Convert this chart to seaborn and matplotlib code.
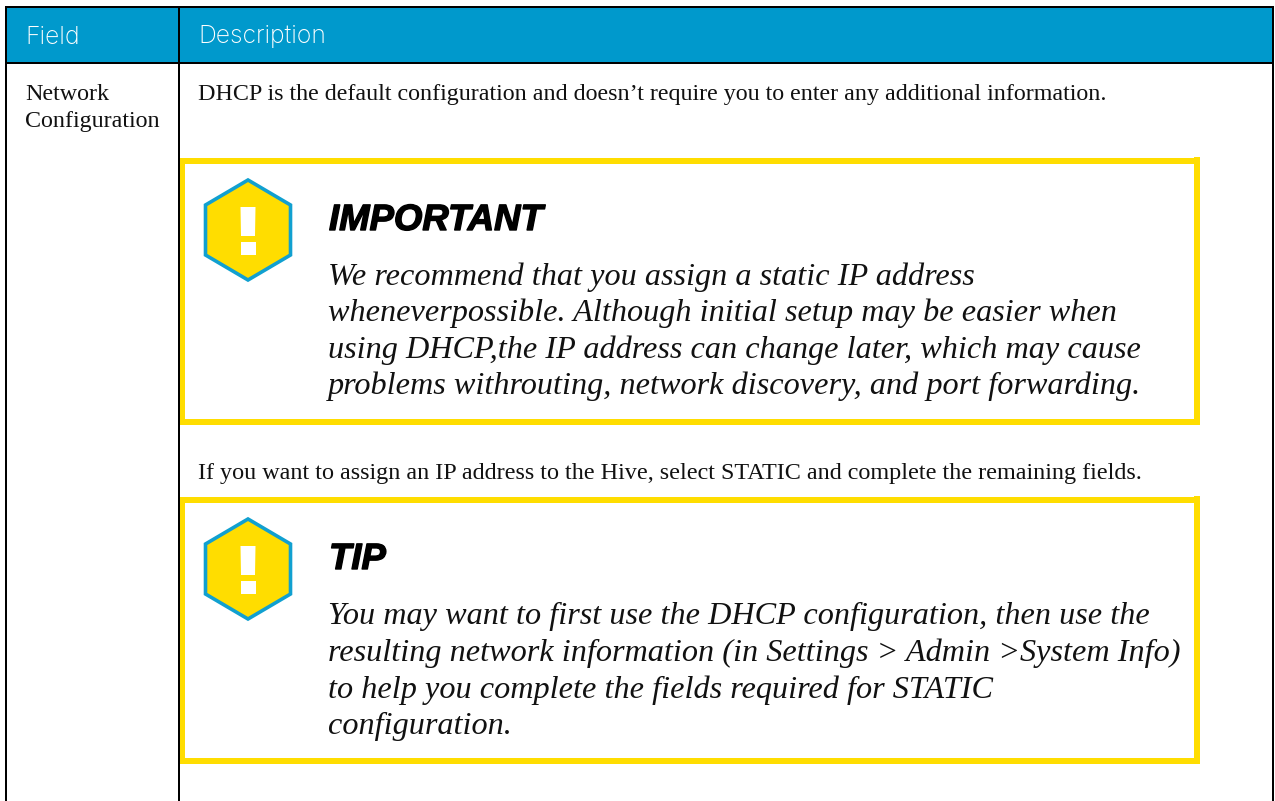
import matplotlib
matplotlib.use("Agg")
import matplotlib.pyplot as plt
import matplotlib.patheffects as pe
from matplotlib.patches import Rectangle, Polygon
import seaborn as sns

sns.set_theme(style="white")
plt.rcParams['font.family'] = ['Liberation Serif', 'DejaVu Sans']

header_labels = ["Field", "Description"]
field_lines = ["Network", "Configuration"]
intro_text = "DHCP is the default configuration and doesn’t require you to enter any additional information."
middle_text = "If you want to assign an IP address to the Hive, select STATIC and complete the remaining fields."
important_title = "IMPORTANT"
important_lines = [
    "We recommend that you assign a static IP address",
    "wheneverpossible. Although initial setup may be easier when",
    "using DHCP,the IP address can change later, which may cause",
    "problems withrouting, network discovery, and port forwarding.",
]
tip_title = "TIP"
tip_lines = [
    "You may want to first use the DHCP configuration, then use the",
    "resulting network information (in Settings > Admin >System Info)",
    "to help you complete the fields required for STATIC",
    "configuration.",
]

BLUE = "#0099CC"
YELLOW = "#FFDD00"
W, H = 1275, 801
DPI = 100

fig = plt.figure(figsize=(W / DPI, H / DPI), dpi=DPI, facecolor="white")
ax = fig.add_axes([0, 0, 1, 1])
ax.set_xlim(0, W)
ax.set_ylim(H, 0)
ax.axis("off")


def rect(x0, y0, x1, y1, color, z=1):
    ax.add_patch(Rectangle((x0, y0), x1 - x0, y1 - y0, facecolor=color, edgecolor="none", zorder=z))


# table frame
rect(6, 7, 1273, 62, BLUE)
rect(5, 6, 1274, 8, "black", 2)
rect(5, 62, 1274, 64, "black", 2)
rect(5, 6, 7, H, "black", 2)
rect(178, 6, 180, H, "black", 2)
rect(1272, 6, 1274, H, "black", 2)

for label, x in zip(header_labels, (25, 198)):
    ax.text(x, 43.5, label, color="white", fontsize=17.8, family="Inter", weight="light", va="baseline", ha="left")

BODY = 17.25
for line, y in zip(field_lines, (100, 127)):
    ax.text(25, y, line, color="#111111", fontsize=BODY, va="baseline", ha="left")

ax.text(198, 100, intro_text, color="#111111", fontsize=BODY, va="baseline", ha="left")
ax.text(198, 479, middle_text, color="#111111", fontsize=BODY + 0.08, va="baseline", ha="left")


def callout(top, bottom, title, lines, title_y, line_ys):
    t = 6
    rect(180, top, 1200, top + t, YELLOW, 3)
    rect(180, bottom - t, 1200, bottom, YELLOW, 3)
    rect(180, top, 185, bottom, YELLOW, 3)
    rect(1194, top - 1, 1200, bottom, YELLOW, 3)
    # hexagon icon
    cx, hx = 248, 42.5
    y0 = top + 22
    hh = 100
    pts = [(cx, y0), (cx + hx, y0 + hh * .25), (cx + hx, y0 + hh * .75),
           (cx, y0 + hh), (cx - hx, y0 + hh * .75), (cx - hx, y0 + hh * .25)]
    ax.add_patch(Polygon(pts, closed=True, facecolor=YELLOW, edgecolor="#11A0D0", linewidth=2.6, joinstyle="miter", zorder=4))
    ax.add_patch(Polygon([(240.5, y0 + 27), (255.5, y0 + 27), (255, y0 + 56), (241, y0 + 56)],
                         closed=True, facecolor="white", edgecolor="none", zorder=5))
    rect(240.5, y0 + 62, 255.5, y0 + 75, "white", 5)
    ax.text(329, title_y, title, color="black", fontsize=26.3, family="Liberation Sans", weight="bold", style="italic",
            va="baseline", ha="left", path_effects=[pe.withStroke(linewidth=1.0, foreground="black")])
    for line, y in zip(lines, line_ys):
        ax.text(328, y, line, color="#111111", fontsize=23.2, style="italic", va="baseline", ha="left")


callout(158, 425, important_title, important_lines, 230, (285, 321, 358, 394))
callout(497, 764, tip_title, tip_lines, 569, (624, 661, 698, 734))

fig.savefig("out.png", dpi=DPI, facecolor="white")
